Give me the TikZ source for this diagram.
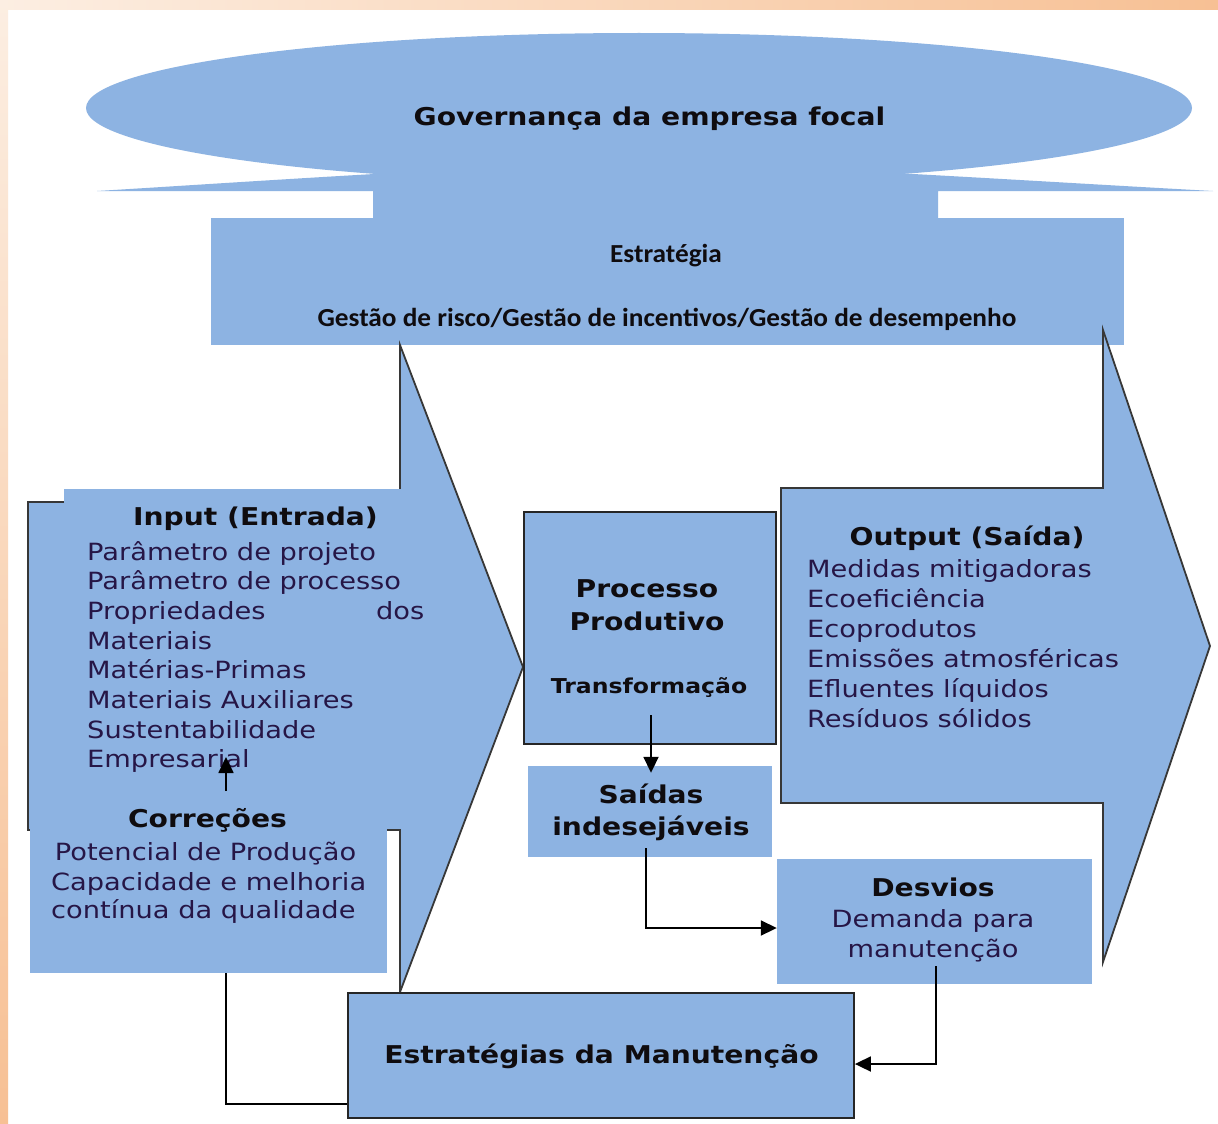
\documentclass[tikz,border=0pt]{standalone}
\usepackage{fontspec}
\setmainfont{DejaVu Sans}[FakeStretch=1.15]
\newfontfamily\calib{Carlito}[FakeStretch=1.05]
\usetikzlibrary{arrows.meta,calc}
\definecolor{bl}{RGB}{141,179,226}
\definecolor{bodytx}{RGB}{38,22,70}
\definecolor{ttx}{RGB}{15,12,15}
\definecolor{orgA}{RGB}{252,238,226}
\definecolor{orgB}{RGB}{247,192,148}
\definecolor{edge}{RGB}{55,55,55}
\begin{document}
\begin{tikzpicture}[x=1pt,y=-1pt,
  outl/.style={fill=bl,draw=edge,line width=1.8pt,line join=miter},
  boxed/.style={fill=bl,draw=black!85,line width=1.8pt,inner sep=0},
  plain/.style={fill=bl,draw=none,inner sep=0},
  ttl/.style={font=\fontsize{24.5}{29}\selectfont\bfseries,text=ttx,inner sep=0},
  bdy/.style={font=\fontsize{23.7}{29}\selectfont,text=bodytx,inner sep=0},
  strat/.style={font=\calib\fontsize{26}{30}\selectfont\bfseries,text=ttx,inner sep=0},
  conn/.style={line width=1.8pt,draw=black},
  arr/.style={conn,-{Triangle[length=16pt,width=15pt]}},
]
% background and frame
\useasboundingbox (0,0) rectangle (1218,1124);
\fill[white] (0,0) rectangle (1218,1124);
\shade[left color=orgA,right color=orgB] (0,0) rectangle (1218,10);
\shade[top color=orgA,bottom color=orgB] (0,0) rectangle (8,1124);

% governance callout
\fill[bl] (639,108) ellipse [x radius=553pt, y radius=75pt];
\fill[bl] (410,172) .. controls (300,178) and (180,186) .. (97,191) -- (373,191) -- (373,220)
  -- (938,220) -- (938,191) -- (1213,191) .. controls (1120,186) and (990,178) .. (876,172) -- cycle;
\node[plain,minimum width=913pt,minimum height=127pt] (estr) at (667.5,281.5) {};

% input arrow
\path[outl] (28,502) -- (400,502) -- (400,345) -- (523,667) -- (400,992) -- (400,830) -- (28,830) -- cycle;
\node[plain,minimum width=338pt,minimum height=311pt] (inp) at (233,644.5) {};
\node[plain,minimum width=357pt,minimum height=173pt] (corr) at (208.5,886.5) {};

% output arrow
\path[outl] (781,488) -- (1103,488) -- (1103,330) -- (1210,646) -- (1103,962) -- (1103,803) -- (781,803) -- cycle;

% boxes
\node[boxed,minimum width=252pt,minimum height=232pt] (proc) at (650,628) {};
\node[plain,minimum width=244pt,minimum height=91pt] (sai) at (650,811.5) {};
\node[plain,minimum width=315pt,minimum height=125pt] (desv) at (934.5,921.5) {};
\node[boxed,minimum width=506pt,minimum height=125pt] (estm) at (601,1055.5) {};

% texts
\node[ttl,anchor=base] (gov) at (649.5,125) {Governança da empresa focal};
\node[strat,anchor=base] (estrA) at (666,262) {Estratégia};
\node[strat,anchor=base] (estrB) at (667,326) {Gestão de risco/Gestão de incentivos/Gestão de desempenho};

\node[ttl,anchor=base] (inT) at (255.5,525) {Input (Entrada)};
\foreach \t [count=\i from 0] in {Parâmetro de projeto,Parâmetro de processo,{\makebox[337pt][l]{Propriedades\hfill dos}},Materiais,Matérias-Primas,Materiais Auxiliares,Sustentabilidade,Empresarial}
  \node[bdy,anchor=base west] (in\i) at (87,560+29.7*\i) {\t};

\node[ttl,anchor=base] (coT) at (207.5,827) {Correções};
\node[bdy,anchor=base] (co0) at (205.5,860) {Potencial de Produção};
\node[bdy,anchor=base west] (co1) at (51,890) {\makebox[315pt][s]{Capacidade e melhoria}};
\node[bdy,anchor=base west] (co2) at (51,918) {contínua da qualidade};

\node[ttl,anchor=base] (prA) at (647,597) {Processo};
\node[ttl,anchor=base] (prB) at (647,630) {Produtivo};
\node[font=\fontsize{20.5}{24}\selectfont\bfseries,text=ttx,inner sep=0,anchor=base] (prC) at (649,693) {Transformação};

\node[ttl,anchor=base] (saA) at (651,803) {Saídas};
\node[ttl,anchor=base] (saB) at (651,835) {indesejáveis};

\node[ttl,anchor=base] (ouT) at (967,545) {Output (Saída)};
\foreach \t [count=\i from 0] in {Medidas mitigadoras,Ecoeficiência,Ecoprodutos,Emissões atmosféricas,Efluentes líquidos,Resíduos sólidos}
  \node[bdy,anchor=base west] (ou\i) at (807,577+30*\i) {\t};

\node[ttl,anchor=base] (deT) at (933,896) {Desvios};
\node[bdy,anchor=base] (de0) at (933,927) {Demanda para};
\node[bdy,anchor=base] (de1) at (933,957) {manutenção};

\node[ttl,anchor=base] (emT) at (601.5,1063) {Estratégias da Manutenção};

% connectors
\coordinate (pout) at (651,715);
\draw[arr] (pout) -- ($(pout |- sai.north)+(0,7)$);
\coordinate (sout) at (646,848);
\draw[arr] (sout) |- ($(desv.west)+(0,6.5)$);
\coordinate (dout) at (936,966);
\draw[arr] (dout) |- ($(estm.east)+(0,8.5)$);
\draw[conn] ($(corr.south)+(17.5,0)$) |- ($(estm.west)+(0,48.5)$);
\coordinate (cu1) at (226,791);
\coordinate (cu2) at (226,757);
\draw[arr] (cu1) -- (cu2);
\end{tikzpicture}
\end{document}
